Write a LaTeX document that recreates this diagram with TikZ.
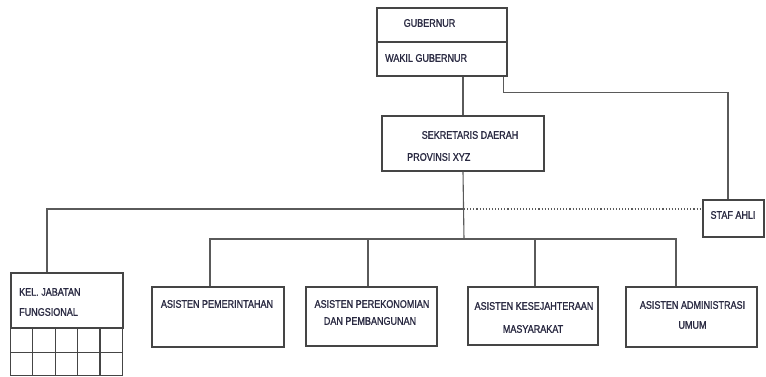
\documentclass[tikz,border=0pt]{standalone}
\usepackage{fontspec}
\setmainfont{Liberation Sans}[FakeStretch=0.82,FakeBold=1.2]
\usetikzlibrary{calc}
\definecolor{linegray}{HTML}{5A5A5A}
\definecolor{boxgray}{HTML}{454545}
\definecolor{inkblue}{HTML}{2A2A42}
\begin{document}
\begin{tikzpicture}[x=1pt,y=-1pt,
  orgbox/.style={draw=boxgray,line width=1.3pt,inner sep=0pt,fill=white},
  lbl/.style={inner sep=0pt,text=inkblue,font=\fontsize{11}{13}\selectfont},
  link/.style={draw=linegray,line width=1.1pt},
  dotlink/.style={draw=linegray,line width=1.1pt,dotted}]
\useasboundingbox[fill=white] (0,0) rectangle (766,376);

% junctions on the two horizontal runs
\coordinate (hj) at (464,209);
\coordinate (bus) at (464,239);

% boxes
\node[orgbox,minimum width=130,minimum height=68] (gub) at (442,42) {};
\node[orgbox,minimum width=162,minimum height=55] (sek) at (463,143.5) {};
\node[orgbox,minimum width=61,minimum height=37] (staf) at (733.5,218.5) {};
\node[orgbox,minimum width=112,minimum height=55] (kel) at (67,300.5) {};
\node[orgbox,minimum width=132,minimum height=60] (a1) at (218,317) {};
\node[orgbox,minimum width=131,minimum height=59] (a2) at (371.5,316.5) {};
\node[orgbox,minimum width=130,minimum height=58] (a3) at (533,316) {};
\node[orgbox,minimum width=131,minimum height=60] (a4) at (691.5,317) {};

% divider between the two offices in the top box
\draw[draw=boxgray,line width=1.3pt] (gub.west) -- (gub.east);

% table under the functional group box
\draw[draw=boxgray,line width=1.1pt] (kel.south west) rectangle ++(112,47);
\draw[draw=boxgray,line width=1.1pt] ([yshift=-24pt]kel.south west) -- ++(112,0);
\foreach \i in {1,...,4}
  \draw[draw=boxgray,line width=1.1pt] ([xshift=\i*22.4pt]kel.south west) -- ++(0,47);

% connectors
\draw[link] (sek.north |- gub.south) -- (sek.north);
\draw[link] ([xshift=-4pt]gub.south east) -- ++(0,16) -| ([xshift=-5.5pt]staf.north);
\draw[link] (sek.south) -- (bus);
\draw[link] (hj) -| ([xshift=-20pt]kel.north);
\draw[dotlink] (hj) -- (staf.west |- hj);
\draw[link] ([xshift=-8pt]a1.north) |- (bus) -| ([xshift=-15.5pt]a4.north);
\draw[link] ([xshift=-3.5pt]a2.north) -- ([xshift=-3.5pt]a2.north |- bus);
\draw[link] ([xshift=2pt]a3.north) -- ([xshift=2pt]a3.north |- bus);

% labels
\node[lbl] (tgub) at (429.5,23) {GUBERNUR};
\node[lbl,anchor=west] (twagub) at (385,58) {WAKIL GUBERNUR};
\node[lbl] (tsek1) at (470,135) {SEKRETARIS DAERAH};
\node[lbl,anchor=west] (tsek2) at (407,157) {PROVINSI XYZ};
\node[lbl] (tstaf) at (733,215) {STAF AHLI};
\node[lbl,anchor=west] (tkel1) at (19,292) {KEL. JABATAN};
\node[lbl,anchor=west] (tkel2) at (19,312) {FUNGSIONAL};
\node[lbl] (ta1) at (217,304) {ASISTEN PEMERINTAHAN};
\node[lbl] (ta2a) at (372,304) {ASISTEN PEREKONOMIAN};
\node[lbl] (ta2b) at (370,321) {DAN PEMBANGUNAN};
\node[lbl] (ta3a) at (534,306) {ASISTEN KESEJAHTERAAN};
\node[lbl] (ta3b) at (533,329) {MASYARAKAT};
\node[lbl] (ta4a) at (692.5,305) {ASISTEN ADMINISTRASI};
\node[lbl] (ta4b) at (692.5,325) {UMUM};
\end{tikzpicture}
\end{document}
